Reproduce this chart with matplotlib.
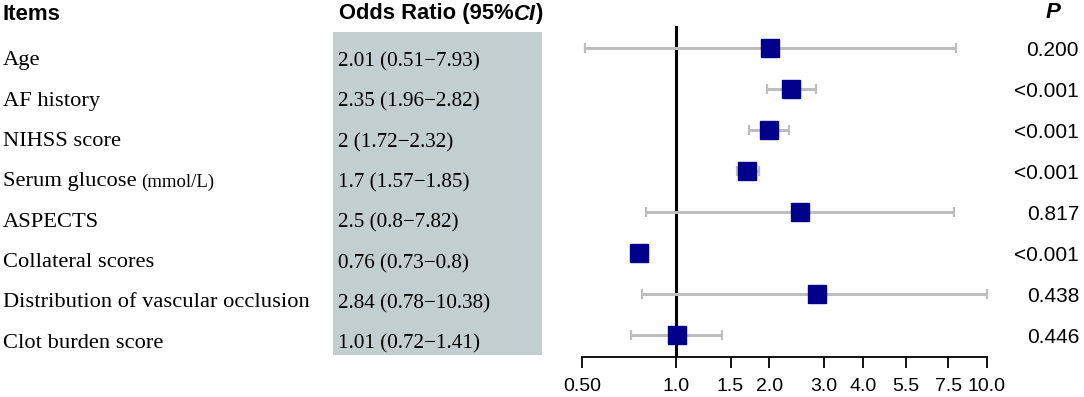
import numpy as np
import matplotlib.pyplot as plt
from matplotlib.patches import Rectangle

# data
items = ["Age", "AF history", "NIHSS score", "Serum glucose", "ASPECTS",
         "Collateral scores", "Distribution of vascular occlusion", "Clot burden score"]
units = ["", "", "", "(mmol/L)", "", "", "", ""]
odds = [2.01, 2.35, 2.0, 1.7, 2.5, 0.76, 2.84, 1.01]
ci_lo = [0.51, 1.96, 1.72, 1.57, 0.8, 0.73, 0.78, 0.72]
ci_hi = [7.93, 2.82, 2.32, 1.85, 7.82, 0.8, 10.38, 1.41]
p_vals = ["0.200", "<0.001", "<0.001", "<0.001", "0.817", "<0.001", "0.438", "0.446"]
ticks = [0.5, 1.0, 1.5, 2.0, 3.0, 4.0, 5.5, 7.5, 10.0]
tick_labels = ["0.50", "1.0", "1.5", "2.0", "3.0", "4.0", "5.5", "7.5", "10.0"]

W, H = 1084, 397
SANS = "Liberation Sans"
SERIF = "Liberation Serif"


def px(x, y):
    # pixel position -> figure fraction
    return x / W, 1 - y / H


fig = plt.figure(figsize=(W / 100, H / 100), dpi=100)

# forest plot axes
left, bottom = px(582, 357)
right, top = px(987, 26)
ax = fig.add_axes([left, bottom, right - left, top - bottom])

# grey box behind the OR column
x0, y0 = px(333, 355)
fig.add_artist(Rectangle((x0, y0), 209 / W, 323 / H, transform=fig.transFigure,
                         facecolor="#C3CED0", edgecolor="none", zorder=0))

# headers
fig.text(*px(2, 14), "Items", family=SANS, weight="bold", fontsize=16, va="center")
hdr = fig.text(*px(339, 14), "Odds Ratio (95%", family=SANS, weight="bold",
               fontsize=15.8, va="center")
ci_t = ax.annotate("CI", xy=(1, 0), xycoords=hdr, va="bottom", ha="left",
                   family=SANS, weight="bold", style="italic", fontsize=15.8,
                   annotation_clip=False)
ax.annotate(")", xy=(1, 0), xycoords=ci_t, va="bottom", ha="left",
            family=SANS, weight="bold", fontsize=15.8, annotation_clip=False)
fig.text(*px(1053, 13), "P", family=SANS, weight="bold", style="italic",
         fontsize=16, va="center", ha="center")

# left text columns
n = len(items)
for i in range(n):
    ty = 61 + 40.3 * i
    lab = fig.text(*px(3, ty), items[i], family=SERIF, fontsize=16.2, va="center")
    if units[i]:
        ax.annotate(units[i], xy=(1, 0), xycoords=lab, xytext=(3, 0),
                    textcoords="offset points", va="bottom", ha="left",
                    family=SERIF, fontsize=13.5, annotation_clip=False)
    txt = f"{odds[i]:g} ({ci_lo[i]:g}\u2212{ci_hi[i]:g})"
    fig.text(*px(338, ty + 1), txt, family=SERIF, fontsize=15.2, va="center")

# forest plot
y = np.arange(n)
xmax = ticks[-1]
hi = np.minimum(ci_hi, xmax)
odds_a = np.array(odds)
ax.axvline(1.0, color="black", lw=2.2, zorder=1)
eb = ax.errorbar(odds_a, y, xerr=[odds_a - np.array(ci_lo), hi - odds_a], fmt="none",
                 ecolor="#BEBEBE", elinewidth=2.2, capsize=3.8, capthick=1.6, zorder=2)
for art in list(eb.lines[1]) + list(eb.lines[2]):
    art.set_clip_on(False)
ax.plot(odds_a, y, "s", color="#00008B", ms=12.5, zorder=3, clip_on=False)

ax.set_xscale("log")
ax.set_xlim(ticks[0], xmax)
ax.set_ylim(n - 1 + 0.537, -0.537)
ax.set_xticks(ticks)
ax.set_xticklabels(tick_labels, family=SANS)
ax.minorticks_off()
ax.set_yticks([])
ax.tick_params(axis="x", length=8, width=1.3, labelsize=14, pad=7)
ax.patch.set_visible(False)
for s in ["top", "right", "left"]:
    ax.spines[s].set_visible(False)
ax.spines["bottom"].set_linewidth(1.3)

# p values
for i in range(n):
    ax.annotate(p_vals[i], xy=(1, y[i]), xycoords=("axes fraction", "data"),
                xytext=(92 * 72 / 100, -1.5), textcoords="offset points",
                ha="right", va="center", family=SANS, fontsize=15,
                annotation_clip=False)

fig.savefig("out.png", dpi=100)
